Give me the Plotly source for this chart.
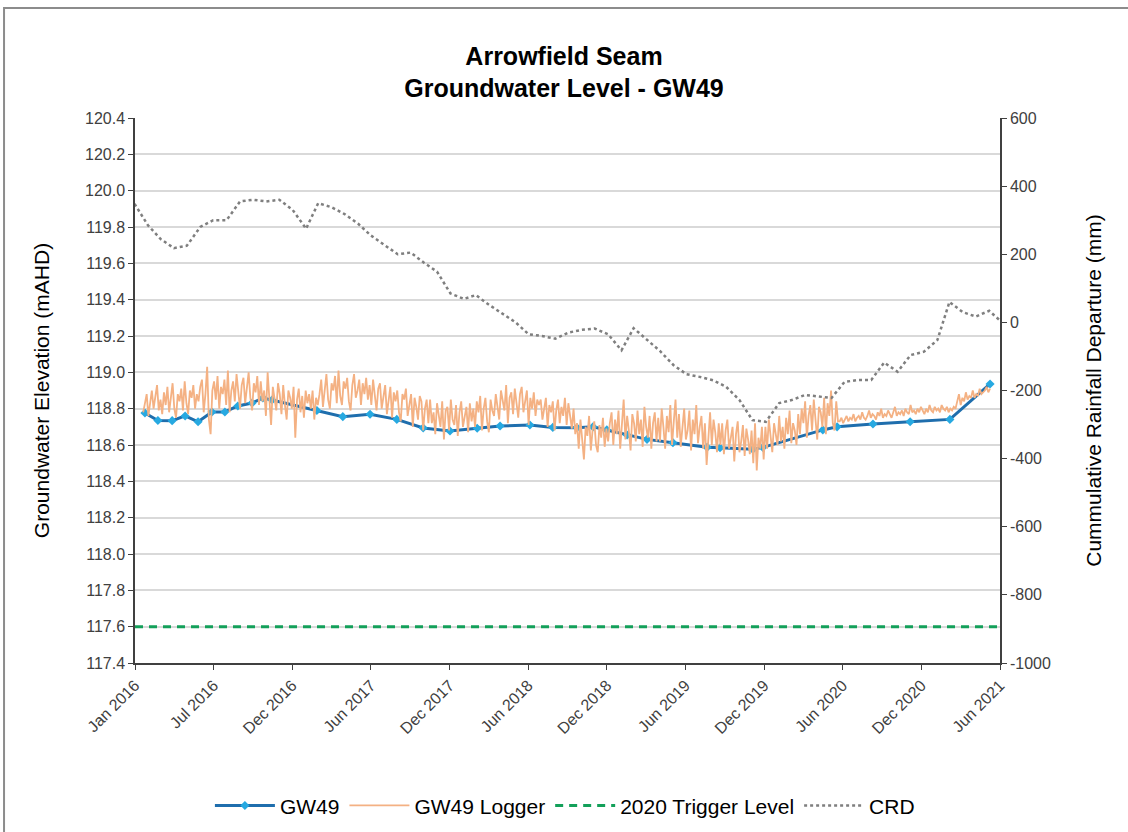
import pandas as pd
import plotly.graph_objects as go

# --- Manual monitoring (GW49) ---
gw49_dates = [
    "2016-01-24", "2016-02-23", "2016-03-27", "2016-04-26", "2016-05-26", "2016-06-27",
    "2016-07-27", "2016-08-26", "2016-09-28", "2016-10-23", "2016-11-13", "2017-02-25",
    "2017-04-26", "2017-06-28", "2017-08-29", "2017-10-29", "2017-12-30", "2018-03-03",
    "2018-04-25", "2018-07-03", "2018-08-25", "2018-10-20", "2018-11-26", "2018-12-28",
    "2019-02-13", "2019-03-31", "2019-05-30", "2019-08-17", "2019-09-16", "2019-12-01",
    "2019-12-24", "2020-05-11", "2020-06-13", "2020-09-04", "2020-11-29", "2021-03-01",
    "2021-06-02",
]
gw49_level = [
    118.776, 118.735, 118.734, 118.760, 118.728, 118.782,
    118.782, 118.815, 118.831, 118.859, 118.848, 118.790,
    118.756, 118.769, 118.741, 118.694, 118.677, 118.692,
    118.705, 118.710, 118.697, 118.695, 118.700, 118.683,
    118.655, 118.631, 118.613, 118.587, 118.585, 118.576,
    118.587, 118.683, 118.700, 118.716, 118.728, 118.741,
    118.936,
]

# --- Data logger (readings every 4 days from 2016-01-20) ---
logger_start = "2016-01-20"
logger_level = [
    # Jan - Mar 2016
    118.78, 118.84, 118.88, 118.76, 118.82, 118.90, 118.80, 118.86, 118.93, 118.79, 118.85, 118.77, 118.89,
    # Mar - Jun 2016
    118.82, 118.92, 118.78, 118.86, 118.94, 118.80, 118.75, 118.88, 118.84, 118.91,
    118.79, 118.95, 118.83, 118.77, 118.90, 118.86, 118.93, 118.80, 118.88, 118.84,
    # Jun - Jul 2016
    118.92, 118.96, 118.78, 118.88, 119.03, 118.74, 118.66, 118.90, 118.95,
    # Aug - Oct 2016
    118.85, 118.98, 118.80, 118.92, 118.88, 118.96, 118.82, 119.01, 118.78, 118.90,
    118.95, 118.84, 118.99, 118.87, 118.80, 118.93, 118.97, 118.83, 118.91, 119.00,
    118.86, 118.79, 118.94, 118.89, 118.98, 118.82,
    # Nov 2016
    118.95, 118.84, 118.90, 118.76, 119.00, 118.88, 118.71, 118.92, 118.85, 118.79, 118.94,
    # Dec 2016 - Jan 2017
    118.88, 118.77, 118.93, 118.82, 118.74, 118.90, 118.86, 118.80, 118.92, 118.64,
    118.85, 118.91, 118.78, 118.87, 118.75, 118.90, 118.83, 118.88,
    # Feb 2017
    118.80, 118.90, 118.74, 118.86, 118.82,
    # Mar - Jun 2017
    118.88, 118.96, 118.81, 118.92, 118.99, 118.85, 118.80, 118.94, 118.90, 118.98,
    118.83, 119.01, 118.87, 118.82, 118.95, 118.91, 118.97, 118.84, 118.79, 118.93,
    118.99, 118.86, 118.90, 118.96, 118.82, 118.94, 118.88, 118.97, 118.85,
    # Jul - Oct 2017
    118.93, 118.82, 118.96, 118.87, 118.79, 118.91, 118.94, 118.80, 118.88, 118.93,
    118.77, 118.86, 118.92, 118.75, 118.89, 118.84, 118.90, 118.78, 118.73, 118.88,
    118.85, 118.91, 118.76, 118.82, 118.88, 118.70, 118.86, 118.81, 118.74, 118.87,
    118.84, 118.68, 118.80, 118.85, 118.72,
    # Nov 2017 - Feb 2018
    118.85, 118.72, 118.78, 118.66, 118.83, 118.75, 118.70, 118.84, 118.63, 118.79,
    118.81, 118.68, 118.85, 118.74, 118.71, 118.82, 118.65, 118.78, 118.84, 118.70,
    118.76, 118.81, 118.67, 118.83, 118.73, 118.80,
    # Mar - Apr 2018
    118.70, 118.84, 118.78, 118.87, 118.68, 118.80, 118.86, 118.73, 118.67, 118.85, 118.79,
    # May - Jul 2018
    118.76, 118.88, 118.82, 118.74, 118.90, 118.85, 118.79, 118.93, 118.72, 118.86,
    118.89, 118.77, 118.91, 118.83, 118.75, 118.88, 118.92, 118.78, 118.84, 118.90,
    118.71, 118.86, 118.80, 118.89, 118.76, 118.85, 118.82,
    # Aug - Oct 2018
    118.85, 118.74, 118.80, 118.86, 118.70, 118.82, 118.78, 118.84, 118.68, 118.79,
    118.85, 118.72, 118.81, 118.76, 118.86, 118.71, 118.83, 118.77, 118.69, 118.80,
    # Nov 2018 - Jan 2019
    118.66, 118.72, 118.58, 118.74, 118.62, 118.52, 118.70, 118.65, 118.76, 118.57,
    118.68, 118.73, 118.60, 118.56, 118.71, 118.64, 118.75, 118.59, 118.69, 118.62,
    # Feb - Apr 2019
    118.72, 118.78, 118.60, 118.74, 118.66, 118.79, 118.58, 118.70, 118.85, 118.63,
    118.76, 118.68, 118.57, 118.77, 118.72, 118.62, 118.79, 118.66, 118.74, 118.59,
    118.81, 118.70, 118.64, 118.76, 118.58, 118.72, 118.78, 118.62, 118.75,
    # May - Aug 2019
    118.62, 118.80, 118.70, 118.58, 118.76, 118.67, 118.82, 118.60, 118.73, 118.85,
    118.64, 118.77, 118.59, 118.71, 118.80, 118.63, 118.68, 118.79, 118.57, 118.74,
    118.66, 118.82, 118.61, 118.70, 118.76, 118.58, 118.72, 118.49, 118.65, 118.78,
    118.60, 118.74, 118.67, 118.56, 118.72,
    # Sep - Nov 2019
    118.60, 118.72, 118.55, 118.68, 118.74, 118.58, 118.64, 118.70, 118.51, 118.66,
    118.73, 118.56, 118.62, 118.71, 118.54, 118.69, 118.63,
    # Dec 2019
    118.55, 118.68, 118.50, 118.72, 118.46, 118.64, 118.58, 118.70, 118.52,
    # Jan - Mar 2020
    118.70, 118.58, 118.74, 118.64, 118.56, 118.72, 118.67, 118.60, 118.76, 118.62,
    118.70, 118.58, 118.75, 118.66, 118.79, 118.61, 118.72, 118.68, 118.60, 118.77,
    # Apr - Jun 2020
    118.66, 118.80, 118.72, 118.84, 118.64, 118.76, 118.82, 118.68, 118.85, 118.74,
    118.63, 118.81, 118.78, 118.70, 118.86, 118.66, 118.83, 118.76, 118.90, 118.72,
    118.68, 118.84, 118.73,
    # Jul 2020 - Mar 2021
    118.73, 118.75, 118.72, 118.74, 118.76, 118.73, 118.75, 118.74, 118.77, 118.73,
    118.75, 118.76, 118.74, 118.78, 118.75, 118.74, 118.76, 118.79, 118.75, 118.77,
    118.76, 118.74, 118.78, 118.76, 118.80, 118.75, 118.77, 118.76, 118.79, 118.77,
    118.75, 118.78, 118.81, 118.76, 118.78, 118.77, 118.79, 118.76, 118.80, 118.78,
    118.77, 118.82, 118.78, 118.79, 118.77, 118.80, 118.78, 118.81, 118.79, 118.77,
    118.80, 118.78, 118.82, 118.79, 118.78, 118.81, 118.79, 118.80, 118.78, 118.82,
    118.80, 118.79, 118.81, 118.78, 118.80, 118.79, 118.81,
    # Mar - Jun 2021
    118.80, 118.84, 118.88, 118.82, 118.86, 118.84, 118.89, 118.85, 118.87, 118.86,
    118.90, 118.86, 118.88, 118.87, 118.91, 118.88, 118.89, 118.90, 118.92, 118.89,
    118.91,
]
logger_dates = pd.date_range(logger_start, periods=len(logger_level), freq="4D")

# --- Trigger level ---
trigger_dates = ["2016-01-01", "2021-06-25"]
trigger_level = [117.6, 117.6]

# --- Cumulative rainfall departure (month-end, mm) from Dec 2015 ---
crd_mm = [
    348, 285, 245, 218, 225, 280, 300, 300, 355, 360, 355, 360,
    330, 275, 350, 338, 318, 290, 255, 228, 200, 205, 175, 149,
    85, 69, 80, 51, 25, 0, -35, -40, -48, -30, -22, -18,
    -35, -82, -17, -52, -84, -125, -152, -160, -170, -189, -228, -287,
    -292, -237, -228, -213, -218, -222, -175, -169, -169, -118, -145, -96,
    -86, -52, 60, 30, 17, 34, 0,
]
crd_dates = pd.date_range("2016-01-01", periods=len(crd_mm), freq="MS") - pd.Timedelta(days=1)

# Axis ticks
tick_dates = pd.date_range("2016-01-01", periods=12, freq="182D")
x_range = ["2016-01-01", "2021-06-25"]
crd_ticks = [-1000, -800, -600, -400, -200, 0, 200, 400, 600]
crd_tick_text = [str(v) for v in crd_ticks]

FONT = "Liberation Sans, Arial, sans-serif"

fig = go.Figure()

fig.add_trace(go.Scatter(
    x=trigger_dates, y=trigger_level, name="2020 Trigger Level", mode="lines",
    line=dict(color="#13A05A", width=3, dash="8px,6px"), legendrank=3,
))
fig.add_trace(go.Scatter(
    x=gw49_dates, y=gw49_level, name="GW49", mode="lines+markers",
    line=dict(color="#1F6EAD", width=3),
    marker=dict(symbol="diamond", size=7, color="#27A9E1"), legendrank=1,
))
fig.add_trace(go.Scatter(
    x=logger_dates, y=logger_level, name="GW49 Logger", mode="lines",
    line=dict(color="#F4B183", width=1.8), legendrank=2,
))
fig.add_trace(go.Scatter(
    x=crd_dates, y=crd_mm, name="CRD", mode="lines", yaxis="y2",
    line=dict(color="#7F7F7F", width=2.5, dash="dot"), legendrank=4,
))

fig.update_layout(
    width=1128, height=832,
    margin=dict(l=135, r=128, t=118, b=169, autoexpand=False),
    paper_bgcolor="white", plot_bgcolor="white",
    font=dict(family=FONT, size=16, color="#404040"),
    title=dict(
        text="<b>Arrowfield Seam<br>Groundwater Level - GW49</b>",
        x=0.5, xanchor="center", y=0.922, yanchor="top",
        font=dict(family=FONT, size=25, color="#000000"),
    ),
    xaxis=dict(
        type="date", range=x_range, tickvals=tick_dates, tickformat="%b %Y",
        tickangle=-45, showgrid=False, showline=True, linecolor="#404040", linewidth=1.5,
        ticks="outside", ticklen=5, tickcolor="#404040", automargin=False,
        tickfont=dict(family=FONT, size=16, color="#404040"), zeroline=False,
    ),
    yaxis=dict(
        range=[117.4, 120.4], dtick=0.2, tick0=117.4, tickformat=".1f",
        showgrid=True, gridcolor="#D9D9D9", gridwidth=1.5,
        showline=True, linecolor="#404040", linewidth=1.5,
        ticks="outside", ticklen=5, tickcolor="#404040", automargin=False,
        title=dict(text="Groundwater Elevation (mAHD)", font=dict(family=FONT, size=21, color="#000000"), standoff=30),
        tickfont=dict(family=FONT, size=16, color="#404040"), zeroline=False,
    ),
    yaxis2=dict(
        overlaying="y", side="right", range=[-1000, 600],
        tickvals=crd_ticks, ticktext=crd_tick_text,
        showgrid=False, showline=True, linecolor="#404040", linewidth=1.5,
        ticks="outside", ticklen=5, tickcolor="#404040", automargin=False,
        title=dict(text="Cummulative Rainfall Departure (mm)", font=dict(family=FONT, size=21, color="#000000"), standoff=36),
        tickfont=dict(family=FONT, size=16, color="#404040"), zeroline=False,
    ),
    legend=dict(
        orientation="h", x=0.497, xanchor="center", y=-0.262, yanchor="middle",
        font=dict(family=FONT, size=21, color="#000000"), bgcolor="rgba(0,0,0,0)",
        itemwidth=60, traceorder="normal",
    ),
    shapes=[dict(
        type="rect", xref="paper", yref="paper",
        x0=-0.1514, x1=1.17, y0=-0.33, y1=1.2018,
        line=dict(color="#8C8C8C", width=2), fillcolor="rgba(0,0,0,0)", layer="below",
    )],
)

fig.write_html("out.html")
